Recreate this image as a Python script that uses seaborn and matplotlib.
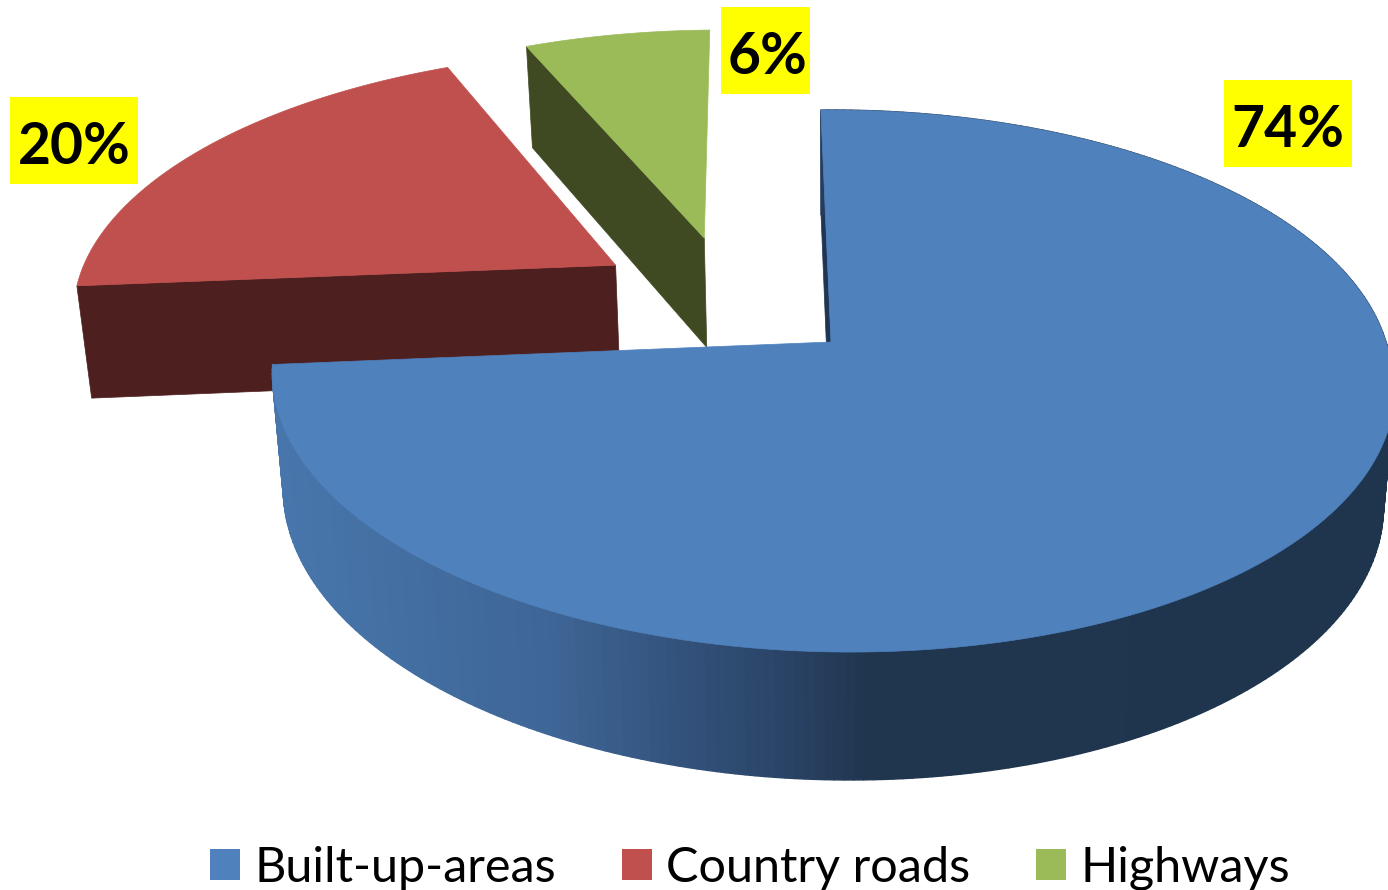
import numpy as np
import seaborn as sns
import matplotlib.pyplot as plt
from matplotlib.collections import PolyCollection
from matplotlib.colors import to_rgb
from matplotlib.patches import Patch, Rectangle

sns.set_theme(style='white')
plt.rcParams['font.family'] = ['Lato', 'DejaVu Sans']

categories = ['Built-up-areas', 'Country roads', 'Highways']
values = [74, 20, 6]

top_colors = sns.color_palette(['#4f81bd', '#c0504d', '#9bbb59'])
wall_colors = ['#1f3552', '#4e1f1f', '#3f4a23']

# projection of the tilted disk on to the page (pixels)
x0, y0 = 831, 342
a, b = 555, 265.4
k, m = 0.144, 0.02
skew = -0.03
start = -1.2

# how far each slice is pulled out, and its height
explode_u = [0, -0.405, -0.242]
explode_v = [0, 0.302, 0.415]
heights = [117, 117, 116]
# perspective makes the back slices open a bit wider
begin_pad = [0, 0, -1.5]
end_pad = [0, -1.2, 0]

label_boxes = [(1224, 80), (10, 97), (721, 7)]
box_w, box_h = 128, 87
green_box_w = 89


def project(u, v, h=0.0):
    w = (1 + k * v) * (1 + m * (h > 0))
    return x0 + a * (u + skew * np.minimum(v, 0)) / w, y0 + (h - b * v) / w


def side_color(x):
    stops = [273, 560, 700, 790, 865, 1388]
    cols = np.array([to_rgb(c) for c in ['#4877ad', '#3e6595', '#314f77', '#294365', '#20364f', '#1f344d']])
    return [np.interp(x, stops, cols[:, i]) for i in range(3)]


fig = plt.figure(figsize=(13.88, 8.90), dpi=100)
ax = fig.add_axes([0, 0, 1, 1])
ax.set_xlim(0, 1388)
ax.set_ylim(890, 0)
ax.axis('off')

ends = np.cumsum(values) / sum(values) * 360 + start
begins = np.concatenate([[start], ends[:-1]])

# back slices first, the big one goes over them
for i in [2, 1, 0]:
    th = np.radians(np.linspace(begins[i] + begin_pad[i], ends[i] + end_pad[i], 300))
    eu, ev = explode_u[i], explode_v[i]
    u = eu + np.sin(th)
    v = ev + np.cos(th)
    d = heights[i]

    # wall at the slice start
    xa, ya = project(eu, ev)
    xb, yb = project(u[0], v[0])
    xc, yc = project(u[0], v[0], d)
    xd, yd = project(eu, ev, d)
    ax.fill([xa, xb, xc, xd], [ya, yb, yc, yd], color=wall_colors[i], lw=0.5, zorder=i * -3 + 7)

    if i == 0:
        xt, yt = project(u, v)
        xl, yl = project(u, v, d)
        quads = []
        cols = []
        for j in range(len(th) - 1):
            quads.append([(xt[j], yt[j]), (xt[j + 1], yt[j + 1]), (xl[j + 1], yl[j + 1]), (xl[j], yl[j])])
            cols.append(side_color((xl[j] + xl[j + 1]) / 2))
        ax.add_collection(PolyCollection(quads, facecolors=cols, edgecolors=cols, linewidths=1.0, zorder=8))

    xs, ys = project(np.r_[eu, u], np.r_[ev, v])
    ax.fill(xs, ys, color=top_colors[i], lw=0.5, zorder=i * -3 + 9)

for i, (bx, by) in enumerate(label_boxes):
    w = green_box_w if i == 2 else box_w
    ax.add_patch(Rectangle((bx, by), w, box_h, color='#ffff00', lw=0, zorder=20))
    ax.text(bx + w / 2 + (2 if i == 2 else 0), by + box_h / 2 + 7, '%d%%' % values[i], fontsize=41,
            fontweight='bold', color='black', ha='center', va='center', zorder=21)

handles = [Patch(color=c, lw=0) for c in top_colors]
ax.legend(handles, categories, ncol=3, loc='lower left', bbox_to_anchor=(210 / 1388, 0.0), frameon=False,
          fontsize=35, handlelength=0.617, handleheight=0.617, handletextpad=0.29, columnspacing=1.36,
          labelcolor='black', borderpad=0, borderaxespad=0)

fig.savefig('out.png', dpi=100)
